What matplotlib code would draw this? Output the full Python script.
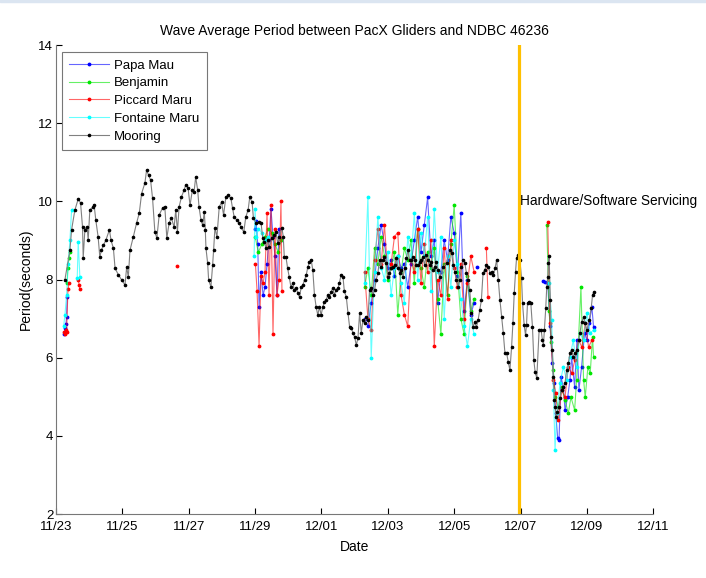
import numpy as np
import matplotlib
matplotlib.use('Agg')
import matplotlib.pyplot as plt
from matplotlib.patches import Rectangle

plt.rcParams['font.family'] = ['Liberation Sans', 'DejaVu Sans']

# time axis: days since 11/23 00:00
tick_days = [0, 2, 4, 6, 8, 10, 12, 14, 16, 18]
tick_labels = ['11/23', '11/25', '11/27', '11/29', '12/01', '12/03', '12/05', '12/07', '12/09', '12/11']
servicing_day = 13.95

# NDBC 46236 mooring
moor_day = [0.27, 0.42, 0.47, 0.57, 0.67, 0.74, 0.80, 0.82, 0.87, 0.94, 0.97, 1.02, 1.12, 1.15, 1.20, 1.27, 1.32,
            1.37, 1.43, 1.50, 1.61, 1.66, 1.73, 1.78, 1.88, 1.98, 2.08, 2.13, 2.18, 2.23, 2.33, 2.43, 2.51, 2.58,
            2.68, 2.73, 2.79, 2.85, 2.91, 2.98, 3.04, 3.11, 3.21, 3.28, 3.34, 3.41, 3.48, 3.56, 3.61, 3.66, 3.71,
            3.78, 3.86, 3.91, 3.98, 4.04, 4.11, 4.16, 4.21, 4.27, 4.31, 4.37, 4.42, 4.47, 4.50, 4.52, 4.57, 4.60,
            4.67, 4.72, 4.75, 4.79, 4.85, 4.92, 4.99, 5.05, 5.12, 5.19, 5.27, 5.32, 5.37, 5.45, 5.52, 5.57, 5.66,
            5.72, 5.79, 5.84, 5.91, 5.95, 6.03, 6.11, 6.18, 6.23, 6.28, 6.33, 6.38, 6.43, 6.51, 6.58, 6.63, 6.68,
            6.73, 6.81, 6.85, 6.88, 6.93, 6.98, 7.03, 7.08, 7.14, 7.18, 7.24, 7.29, 7.34, 7.39, 7.44, 7.49, 7.54,
            7.59, 7.64, 7.69, 7.74, 7.79, 7.84, 7.89, 7.94, 7.99, 8.04, 8.09, 8.14, 8.19, 8.24, 8.29, 8.34, 8.39,
            8.44, 8.50, 8.54, 8.59, 8.65, 8.69, 8.75, 8.80, 8.85, 8.90, 8.95, 9.00, 9.05, 9.10, 9.15, 9.20, 9.25,
            9.30, 9.35, 9.40, 9.45, 9.50, 9.55, 9.60, 9.65, 9.70, 9.75, 9.80, 9.85, 9.90, 9.95, 10.01, 10.05,
            10.11, 10.16, 10.21, 10.26, 10.31, 10.36, 10.41, 10.46, 10.51, 10.56, 10.61, 10.66, 10.71, 10.76,
            10.81, 10.86, 10.91, 10.96, 11.01, 11.06, 11.11, 11.16, 11.21, 11.26, 11.31, 11.37, 11.41, 11.46,
            11.52, 11.56, 11.67, 11.77, 11.87, 11.92, 11.97, 12.02, 12.07, 12.12, 12.17, 12.22, 12.27, 12.32,
            12.37, 12.42, 12.47, 12.52, 12.57, 12.62, 12.67, 12.72, 12.77, 12.82, 12.87, 12.92, 12.97, 13.03,
            13.08, 13.13, 13.18, 13.23, 13.28, 13.33, 13.38, 13.43, 13.48, 13.53, 13.58, 13.63, 13.68, 13.73,
            13.77, 13.81, 13.85, 13.88, 13.93, 13.98, 14.03, 14.06, 14.11, 14.15, 14.18, 14.21, 14.26, 14.31,
            14.36, 14.40, 14.44, 14.49, 14.56, 14.62, 14.66, 14.69, 14.72, 14.76, 14.79, 14.82, 14.84, 14.86,
            14.90, 14.92, 14.96, 14.99, 15.02, 15.04, 15.07, 15.11, 15.16, 15.19, 15.24, 15.29, 15.34, 15.39,
            15.44, 15.49, 15.54, 15.59, 15.64, 15.70, 15.75, 15.79, 15.84, 15.90, 15.94, 16.00, 16.07, 16.13,
            16.17, 16.21]
moor_val = [8.0, 8.75, 9.27, 9.78, 10.06, 9.96, 9.34, 8.55, 9.27, 9.35, 9.0, 9.78, 9.86, 9.9, 9.52, 9.09, 8.58,
            8.75, 8.88, 9.0, 9.27, 9.0, 8.8, 8.29, 8.12, 7.99, 7.86, 8.32, 8.06, 8.75, 9.09, 9.45, 9.7, 10.2,
            10.47, 10.8, 10.67, 10.55, 10.08, 9.22, 9.06, 9.65, 9.83, 9.86, 9.06, 9.45, 9.57, 9.34, 9.78, 9.22,
            9.86, 10.11, 10.29, 10.42, 10.34, 9.9, 10.29, 10.24, 10.62, 10.29, 9.86, 9.52, 9.39, 9.73, 9.27, 8.8,
            8.42, 7.99, 7.81, 8.37, 8.75, 9.32, 9.09, 9.86, 9.98, 9.65, 10.11, 10.16, 10.08, 9.83, 9.6, 9.52,
            9.45, 9.34, 9.22, 9.6, 9.78, 10.11, 9.98, 9.57, 9.45, 9.47, 9.45, 9.06, 8.96, 8.8, 9.01, 8.83, 9.06,
            9.14, 9.22, 8.93, 9.09, 9.32, 9.09, 8.58, 8.58, 8.29, 8.06, 7.81, 7.91, 7.73, 7.78, 7.65, 7.55, 7.81,
            7.86, 7.99, 8.11, 8.32, 8.45, 8.5, 8.24, 7.6, 7.3, 7.09, 7.3, 7.09, 7.3, 7.42, 7.47, 7.6, 7.55, 7.68,
            7.78, 7.6, 7.73, 7.78, 7.91, 8.11, 8.06, 7.7, 7.55, 7.14, 6.78, 6.76, 6.63, 6.53, 6.32, 6.5, 7.14,
            6.63, 6.96, 6.88, 7.04, 6.96, 7.73, 7.78, 7.6, 7.73, 7.99, 8.17, 8.5, 8.32, 8.5, 8.58, 8.42, 8.06,
            8.17, 8.29, 8.32, 8.37, 8.55, 8.29, 8.17, 8.24, 8.06, 8.29, 8.55, 8.75, 8.5, 8.5, 8.58, 8.5, 8.37,
            8.37, 8.45, 8.5, 8.58, 8.37, 8.63, 8.5, 8.37, 8.45, 8.24, 8.32, 8.45, 8.24, 8.06, 8.32, 8.42, 8.75,
            8.68, 8.37, 8.19, 7.99, 7.81, 7.99, 8.32, 8.5, 8.42, 8.17, 7.99, 7.73, 7.14, 6.78, 6.91, 6.78, 6.96,
            7.22, 7.47, 8.17, 8.24, 8.37, 8.32, 8.17, 8.19, 8.11, 8.29, 8.5, 7.99, 7.47, 7.04, 6.63, 6.12, 6.12,
            5.89, 5.68, 6.27, 6.88, 7.65, 8.2, 8.55, 8.63, 8.5, 8.04, 7.4, 6.83, 6.58, 6.83, 7.4, 7.42, 7.39,
            6.78, 5.94, 5.63, 5.48, 6.71, 6.71, 6.45, 6.32, 6.71, 7.27, 7.81, 8.06, 8.42, 8.6, 7.47, 6.53, 6.2,
            5.5, 4.91, 4.74, 4.48, 4.61, 4.74, 4.96, 5.17, 5.25, 5.35, 5.68, 5.86, 6.12, 6.2, 6.02, 6.12, 6.2,
            6.45, 6.63, 6.91, 7.04, 6.88, 6.71, 6.96, 7.27, 7.6, 7.68]

# gliders, deployment near 11/23
blue_d1 = [0.24, 0.27, 0.30, 0.32, 0.34]
blue_v1 = [6.6, 6.75, 6.85, 7.05, 7.55]
green_d1 = [0.33, 0.36, 0.39, 0.42]
green_v1 = [7.9, 8.3, 8.55, 8.7]
red_d1 = [0.23, 0.26, 0.29, 0.32, 0.36, 0.39]
red_v1 = [6.65, 6.6, 6.7, 6.65, 7.75, 7.9]
red_d1b = [0.67, 0.70, 0.72]
red_v1b = [8.0, 7.85, 7.75]
cyan_d1 = [0.23, 0.27, 0.32, 0.37, 0.42, 0.47]
cyan_v1 = [6.8, 7.1, 7.6, 8.4, 9.0, 9.78]
cyan_d1b = [0.64, 0.67, 0.72]
cyan_v1b = [8.05, 8.96, 8.06]

red_d_lone = [3.64]
red_v_lone = [8.35]

# 11/29 - 11/30
blue_d2 = [5.99, 6.03, 6.08, 6.12, 6.18, 6.24, 6.30, 6.36, 6.42, 6.48, 6.54, 6.60, 6.66, 6.72, 6.78]
blue_v2 = [9.3, 9.5, 8.9, 7.3, 8.2, 7.6, 7.8, 8.4, 9.0, 9.8, 9.1, 8.6, 7.6, 9.3, 9.0]
green_d2 = [6.00, 6.10, 6.20, 6.30, 6.40, 6.50, 6.60, 6.70, 6.78]
green_v2 = [9.1, 8.7, 8.9, 9.1, 9.3, 9.2, 8.9, 8.7, 9.0]
red_d2 = [6.01, 6.06, 6.12, 6.18, 6.24, 6.30, 6.36, 6.42, 6.48, 6.54, 6.60, 6.66, 6.72, 6.78, 6.81]
red_v2 = [8.4, 7.7, 6.3, 8.1, 7.9, 8.2, 9.7, 7.6, 9.9, 6.6, 9.3, 7.6, 8.0, 10.0, 7.7]
cyan_d2 = [5.97, 6.00, 6.04, 6.10, 6.20, 6.30, 6.40]
cyan_v2 = [8.6, 9.8, 9.1, 9.3, 9.2, 9.0, 9.1]

# 12/02 - 12/05
c3_day = [9.3, 9.4, 9.5, 9.6, 9.7, 9.8, 9.9, 10.0, 10.1, 10.2, 10.3, 10.4, 10.5, 10.6, 10.7, 10.8, 10.9,
          11.0, 11.1, 11.2, 11.3, 11.4, 11.5, 11.6, 11.7, 11.8, 11.9, 12.0, 12.1, 12.2, 12.3, 12.4, 12.5, 12.6]
blue_v3 = [7.0, 6.8, 7.4, 8.0, 8.8, 9.4, 8.9, 8.3, 8.5, 8.1, 8.6, 8.3, 8.4, 7.8, 8.4, 9.0, 9.6, 8.7, 9.4,
           10.1, 8.6, 9.0, 7.4, 8.2, 9.0, 8.5, 9.6, 9.2, 8.1, 9.7, 7.2, 8.0, 7.1, 7.4]
green_v3 = [7.8, 8.3, 7.6, 8.8, 8.4, 9.1, 8.6, 8.0, 8.3, 8.7, 7.1, 8.2, 8.8, 8.5, 9.0, 7.9, 9.3, 8.3, 7.8,
            8.7, 8.3, 8.8, 7.5, 6.6, 8.4, 7.6, 8.9, 9.9, 8.2, 7.0, 6.6, 8.1, 7.2, 7.5]
red_v3 = [8.2, 7.0, 6.7, 8.5, 9.3, 8.4, 9.4, 8.1, 8.4, 9.1, 9.2, 7.6, 7.1, 6.8, 8.5, 8.2, 9.3, 7.9, 8.9,
          8.2, 9.0, 6.3, 8.0, 7.6, 8.8, 7.5, 9.0, 8.3, 7.8, 8.4, 7.0, 7.9, 8.6, 8.2]
cyan_v3 = [7.9, 10.1, 6.0, 8.2, 9.6, 8.3, 8.0, 8.7, 7.6, 8.3, 8.6, 7.9, 7.4, 9.1, 8.5, 9.7, 8.0, 9.2, 8.6,
           9.6, 7.7, 9.8, 8.2, 9.1, 7.0, 8.6, 7.8, 9.0, 8.4, 7.5, 6.8, 6.3, 7.0, 6.6]
blue_d3b = [12.69]
blue_v3b = [8.33]
red_d3b = [12.97, 13.02]
red_v3b = [8.8, 7.55]

# after servicing, 12/08 - 12/09
blue_d4 = [14.67, 14.74, 14.82, 14.89, 14.96, 15.02, 15.06, 15.12, 15.16, 15.22, 15.29, 15.34, 15.42, 15.49,
           15.54, 15.63, 15.70, 15.76, 15.84, 15.93, 16.00, 16.07, 16.15, 16.20]
blue_v4 = [7.95, 7.94, 7.9, 6.8, 5.86, 5.35, 4.58, 3.94, 3.89, 5.5, 5.25, 4.66, 4.99, 5.43, 6.02, 5.25, 6.45,
           5.17, 5.76, 6.63, 6.45, 6.88, 7.3, 6.79]
green_d4 = [14.79, 14.86, 14.93, 14.99, 15.04, 15.14, 15.24, 15.34, 15.44, 15.52, 15.63, 15.69, 15.82, 15.90,
            15.95, 16.03, 16.10, 16.17, 16.20]
green_v4 = [9.4, 7.2, 6.4, 5.68, 4.99, 4.74, 5.25, 4.91, 4.58, 4.99, 4.66, 5.43, 7.81, 5.43, 4.99, 5.76, 5.6,
            6.53, 6.02]
red_d4 = [14.82, 14.89, 14.99, 15.06, 15.14, 15.24, 15.34, 15.44, 15.54, 15.64, 15.75, 15.85, 15.95, 16.05,
          16.15]
red_v4 = [9.47, 6.88, 5.43, 5.1, 4.4, 5.17, 4.99, 5.76, 5.6, 5.94, 6.45, 6.27, 6.88, 6.27, 6.45]
cyan_d4 = [14.86, 14.94, 14.99, 15.04, 15.09, 15.19, 15.29, 15.39, 15.49, 15.59, 15.69, 15.79, 15.90, 16.00,
           16.10, 16.20]
cyan_v4 = [7.9, 6.96, 5.17, 3.64, 4.58, 5.35, 5.76, 5.43, 6.02, 6.45, 5.76, 6.63, 6.45, 7.14, 6.63, 6.71]


def join(*segs):
    # segments are (days, values); NaN breaks the line between deployments
    d, v = [], []
    for sd, sv in segs:
        if d:
            d.append(np.nan)
            v.append(np.nan)
        d += list(sd)
        v += list(sv)
    return np.array(d), np.array(v)


series = [
    ('Papa Mau', '#0000ff', join((blue_d1, blue_v1), (blue_d2, blue_v2), (c3_day, blue_v3),
                                  (blue_d3b, blue_v3b), (blue_d4, blue_v4))),
    ('Benjamin', '#00e600', join((green_d1, green_v1), (green_d2, green_v2), (c3_day, green_v3),
                                  (green_d4, green_v4))),
    ('Piccard Maru', '#ff0000', join((red_d1, red_v1), (red_d1b, red_v1b), (red_d_lone, red_v_lone),
                                      (red_d2, red_v2), (c3_day, red_v3), (red_d3b, red_v3b),
                                      (red_d4, red_v4))),
    ('Fontaine Maru', '#00ffff', join((cyan_d1, cyan_v1), (cyan_d1b, cyan_v1b), (cyan_d2, cyan_v2),
                                       (c3_day, cyan_v3), (cyan_d4, cyan_v4))),
]

fig = plt.figure(figsize=(7.06, 5.78), dpi=100)
fig.patches.append(Rectangle((0, 0.996), 1, 0.004, transform=fig.transFigure,
                             color='#dbe5f1', zorder=0))
ax = fig.add_axes([0.0793, 0.1107, 0.846, 0.8114])

for name, c, (d, v) in series:
    ax.plot(d, v, '-', color=matplotlib.colors.to_rgba(c, 0.6), lw=0.8, marker='.', ms=3.5,
            mfc=c, mec=c, label=name)

ax.plot(moor_day, moor_val, '-', color='#808080', lw=0.8, marker='.', ms=3.2, mfc='black', mec='black',
        label='Mooring')

ax.axvline(servicing_day, color='#ffc000', lw=2.3, zorder=5)
ax.text(servicing_day + 0.03, 10.0, 'Hardware/Software Servicing', fontsize=9.8, ha='left', va='center',
        clip_on=False)

ax.set_xlim(0, 18)
ax.set_ylim(2, 14)
ax.set_xticks(tick_days)
ax.set_xticklabels(tick_labels)
ax.set_yticks([2, 4, 6, 8, 10, 12, 14])
ax.tick_params(direction='in', length=4, labelsize=9.5, colors='black', top=False, right=False, pad=2)
ax.tick_params(axis='x', pad=5)
for s in ['top', 'right']:
    ax.spines[s].set_visible(False)
for s in ['left', 'bottom']:
    ax.spines[s].set_color('#777777')
    ax.spines[s].set_linewidth(0.8)

ax.set_title('Wave Average Period between PacX Gliders and NDBC 46236', fontsize=10, pad=7)
ax.set_xlabel('Date', fontsize=10, labelpad=5)
ax.set_ylabel('Period(seconds)', fontsize=10, labelpad=4)

leg = ax.legend(loc='upper left', bbox_to_anchor=(0.01, 0.985), fontsize=9.5, fancybox=False,
                edgecolor='#777777', framealpha=1, handlelength=3.0, borderpad=0.55, labelspacing=0.42,
                handletextpad=0.4, borderaxespad=0)
leg.get_frame().set_linewidth(0.8)

fig.savefig('out.png', dpi=100)
